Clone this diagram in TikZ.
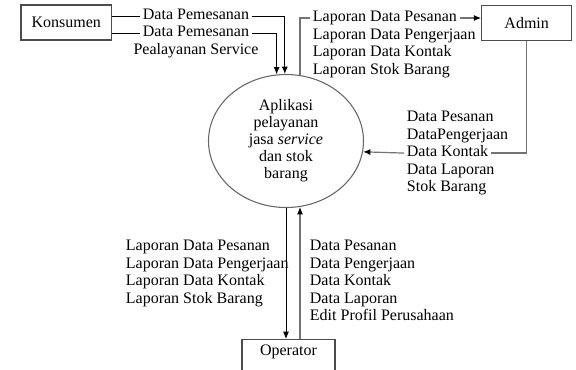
\documentclass[tikz,border=0pt]{standalone}
\usepackage{fontspec}
\setmainfont{Liberation Serif}
\usetikzlibrary{arrows.meta,positioning,shapes.geometric}
\tikzset{%
  entitas/.style={draw=black!70, line width=0.8pt, minimum width=68pt, minimum height=26.25pt, inner sep=2pt, font=\fontsize{12}{12.75}\selectfont},
  proses/.style={draw=black!60, line width=0.8pt, ellipse, minimum width=116.25pt, minimum height=99.75pt, inner sep=0pt, align=center, font=\fontsize{12}{12.75}\selectfont},
  teks/.style={inner xsep=2pt, inner ysep=0pt, text height=9pt, text depth=3.75pt, font=\fontsize{12}{12.75}\selectfont},
  line/.style={draw, line width=0.7pt, -{Latex[length=5.5pt,width=4.5pt]}},
  linegray/.style={draw=black!55, line width=0.9pt, -{Latex[length=5.5pt,width=4.5pt,color=black]}},
}

\begin{document}
\begin{tikzpicture}[x=0.75pt, y=-0.75pt]
  \clip (0,0) rectangle (576,369);

  % entitas dan proses
  \node [entitas] (konsumen) at (66.3,22.5) {Konsumen};
  \node [entitas, minimum width=67.5pt] (admin) at (526.7,23) {Admin};
  \node [entitas, anchor=north, minimum width=69.75pt, text height=9.75pt, text depth=22pt] (operator) at (288.5,339) {Operator};
  \node [proses] (app) at (286,141) {Aplikasi\\pelayanan\\jasa \textit{service}\\dan stok\\barang};

  % label konsumen
  \node [teks] (k1) at (196,16) {Data Pemesanan};
  \node [teks] (k2) at (196,33) {Data Pemesanan};
  \node [teks, below=0pt of k2] (k3) {Pealayanan Service};

  % label ke admin
  \node [teks, anchor=west] (a1) at (310,18) {Laporan Data Pesanan};
  \node [teks, below=0pt of a1.south west, anchor=north west] (a2) {Laporan Data Pengerjaan};
  \node [teks, below=0pt of a2.south west, anchor=north west] (a3) {Laporan Data Kontak};
  \node [teks, below=0pt of a3.south west, anchor=north west] (a4) {Laporan Stok Barang};

  % label dari admin
  \node [teks, anchor=west] (b1) at (404,118) {Data Pesanan};
  \node [teks, below=0pt of b1.south west, anchor=north west] (b2) {DataPengerjaan};
  \node [teks, below=0pt of b2.south west, anchor=north west] (b3) {Data Kontak};
  \node [teks, below=0pt of b3.south west, anchor=north west] (b4) {Data Laporan};
  \node [teks, below=0pt of b4.south west, anchor=north west] (b5) {Stok Barang};

  % label ke operator
  \node [teks, anchor=west] (o1) at (123,247) {Laporan Data Pesanan};
  \node [teks, below=0pt of o1.south west, anchor=north west] (o2) {Laporan Data Pengerjaan};
  \node [teks, below=0pt of o2.south west, anchor=north west] (o3) {Laporan Data Kontak};
  \node [teks, below=0pt of o3.south west, anchor=north west] (o4) {Laporan Stok Barang};

  % label dari operator
  \node [teks, anchor=west] (p1) at (307,247) {Data Pesanan};
  \node [teks, below=0pt of p1.south west, anchor=north west] (p2) {Data Pengerjaan};
  \node [teks, below=0pt of p2.south west, anchor=north west] (p3) {Data Kontak};
  \node [teks, below=0pt of p3.south west, anchor=north west] (p4) {Data Laporan};
  \node [teks, below=0pt of p4.south west, anchor=north west] (p5) {Edit Profil Perusahaan};

  % aliran data
  \path [line, -] (konsumen.east |- k1) -- (k1.west);
  \path [line] (k1.east) -| (app.91);
  \path [line, -] (konsumen.east |- k2) -- (k2.west);
  \path [line] (k2.east) -| (app.98);

  \path [linegray, -] (app.78) |- (a1.west);
  \path [linegray] (a1.east) -- (a1 -| admin.west);

  \path [linegray, -] (admin.south) |- (b3.east);
  \path [linegray] (b3.west) -- (app.-8);

  \path [line] (app.south) -- (app.south |- operator.north);
  \path [linegray] (app.-78 |- operator.north) -- (app.-78);
\end{tikzpicture}
\end{document}
